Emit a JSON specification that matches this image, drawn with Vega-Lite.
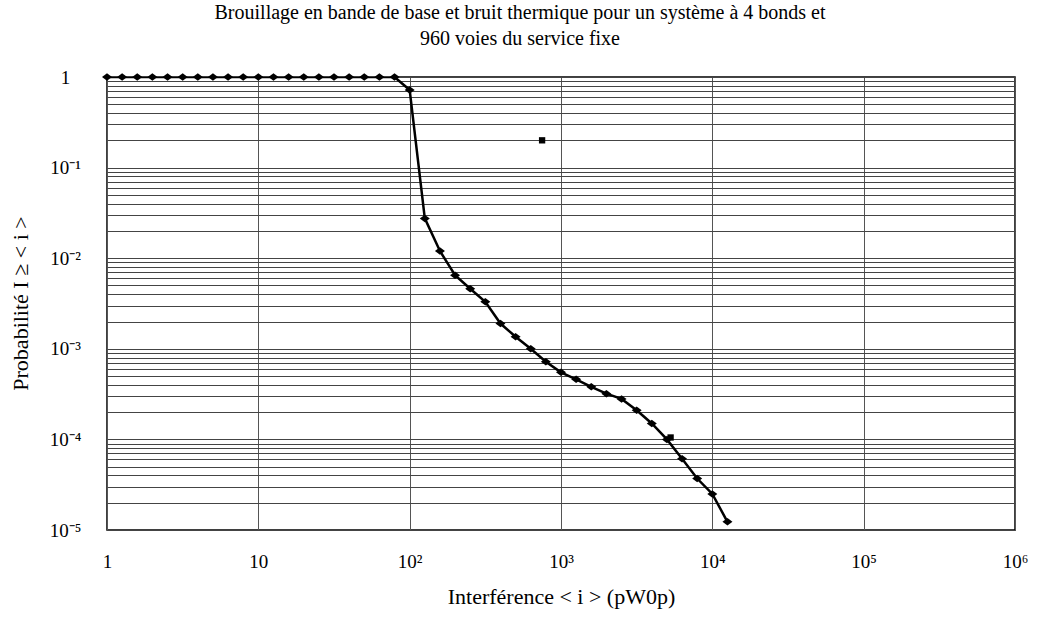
{
  "$schema": "https://vega.github.io/schema/vega-lite/v6.json",
  "width": 908,
  "height": 453,
  "autosize": {"type": "none"},
  "padding": {"left": 107, "top": 77, "right": 23, "bottom": 89},
  "background": "white",
  "config": {
    "font": "Liberation Serif",
    "view": {"stroke": "#000", "strokeWidth": 1.5},
    "axis": {"labelFont": "Liberation Serif", "titleFont": "Liberation Serif", "labelColor": "#000", "titleColor": "#000", "titleFontWeight": "normal"}
  },
  "title": {
    "text": ["Brouillage en bande de base et bruit thermique pour un système à 4 bonds et", "960 voies du service fixe"],
    "font": "Liberation Serif",
    "fontSize": 20,
    "fontWeight": "normal",
    "color": "#000",
    "anchor": "middle",
    "dx": -41,
    "offset": 19,
    "lineHeight": 26
  },
  "datasets": {
    "curve": [
      {"x": 1, "p": 1}, {"x": 1.259, "p": 1}, {"x": 1.585, "p": 1}, {"x": 1.995, "p": 1}, {"x": 2.512, "p": 1},
      {"x": 3.162, "p": 1}, {"x": 3.981, "p": 1}, {"x": 5.012, "p": 1}, {"x": 6.31, "p": 1}, {"x": 7.943, "p": 1},
      {"x": 10, "p": 1}, {"x": 12.59, "p": 1}, {"x": 15.85, "p": 1}, {"x": 19.95, "p": 1}, {"x": 25.12, "p": 1},
      {"x": 31.62, "p": 1}, {"x": 39.81, "p": 1}, {"x": 50.12, "p": 1}, {"x": 63.1, "p": 1}, {"x": 79.43, "p": 1},
      {"x": 100, "p": 0.72}, {"x": 125.9, "p": 0.0275}, {"x": 158.5, "p": 0.012}, {"x": 199.5, "p": 0.0065},
      {"x": 251.2, "p": 0.0046}, {"x": 316.2, "p": 0.0033}, {"x": 398.1, "p": 0.0019}, {"x": 501.2, "p": 0.00136},
      {"x": 631, "p": 0.001}, {"x": 794.3, "p": 0.00072}, {"x": 1000, "p": 0.00055}, {"x": 1259, "p": 0.00046},
      {"x": 1585, "p": 0.00038}, {"x": 1995, "p": 0.00032}, {"x": 2512, "p": 0.00028}, {"x": 3162, "p": 0.00021},
      {"x": 3981, "p": 0.00015}, {"x": 5012, "p": 0.0001}, {"x": 6310, "p": 0.000061}, {"x": 7943, "p": 0.000037},
      {"x": 10000, "p": 0.000025}, {"x": 12589, "p": 0.0000123}
    ],
    "marks": [
      {"x": 750, "p": 0.2},
      {"x": 5300, "p": 0.000105}
    ]
  },
  "layer": [
    {
      "data": {"name": "curve"},
      "mark": {"type": "line", "color": "#000", "strokeWidth": 2.5, "clip": true},
      "encoding": {
        "x": {
          "field": "x", "type": "quantitative",
          "scale": {"type": "log", "domain": [1, 1000000]},
          "axis": {
            "values": [1, 10, 100, 1000, 10000, 100000, 1000000],
            "labelExpr": "['1','10','10²','10³','10⁴','10⁵','10⁶'][round(log(datum.value)/LN10)]",
            "labelFontSize": 19,
            "labelPadding": 22,
            "labelOverlap": false,
            "labelFlush": false,
            "ticks": false,
            "domain": false,
            "grid": true,
            "gridColor": "#555",
            "gridWidth": 1,
            "gridOpacity": 1,
            "title": "Interférence < i > (pW0p)",
            "titleFontSize": 22,
            "titlePadding": 15
          }
        },
        "y": {
          "field": "p", "type": "quantitative",
          "scale": {"type": "log", "domain": [0.00001, 1]},
          "axis": {
            "values": [0.00001, 0.00002, 0.00003, 0.00004, 0.00005, 0.00006, 0.00007, 0.00008, 0.00009,
                       0.0001, 0.0002, 0.0003, 0.0004, 0.0005, 0.0006, 0.0007, 0.0008, 0.0009,
                       0.001, 0.002, 0.003, 0.004, 0.005, 0.006, 0.007, 0.008, 0.009,
                       0.01, 0.02, 0.03, 0.04, 0.05, 0.06, 0.07, 0.08, 0.09,
                       0.1, 0.2, 0.3, 0.4, 0.5, 0.6, 0.7, 0.8, 0.9, 1],
            "labelExpr": "abs(log(datum.value)/LN10 - round(log(datum.value)/LN10)) < 0.000001 ? ['10⁻⁵','10⁻⁴','10⁻³','10⁻²','10⁻¹','1'][round(log(datum.value)/LN10)+5] : ''",
            "labelFontSize": 19,
            "labelAlign": "center",
            "labelBaseline": "middle",
            "labelPadding": 42,
            "labelOverlap": false,
            "labelFlush": false,
            "ticks": false,
            "domain": false,
            "grid": true,
            "gridColor": "#444",
            "gridWidth": 1,
            "gridOpacity": 1,
            "title": "Probabilité I ≥ < i >",
            "titleFontSize": 22,
            "titleX": -87,
            "titleY": 226,
            "titleAngle": 270,
            "titleBaseline": "middle",
            "titleAlign": "center"
          }
        }
      }
    },
    {
      "data": {"name": "curve"},
      "mark": {"type": "point", "shape": "M-1,0L0,-0.75L1,0L0,0.75Z", "filled": true, "color": "#000", "size": 100, "opacity": 1, "clip": false},
      "encoding": {
        "x": {"field": "x", "type": "quantitative"},
        "y": {"field": "p", "type": "quantitative"}
      }
    },
    {
      "data": {"name": "marks"},
      "mark": {"type": "point", "shape": "square", "filled": true, "color": "#000", "size": 40, "opacity": 1},
      "encoding": {
        "x": {"field": "x", "type": "quantitative"},
        "y": {"field": "p", "type": "quantitative"}
      }
    }
  ]
}
